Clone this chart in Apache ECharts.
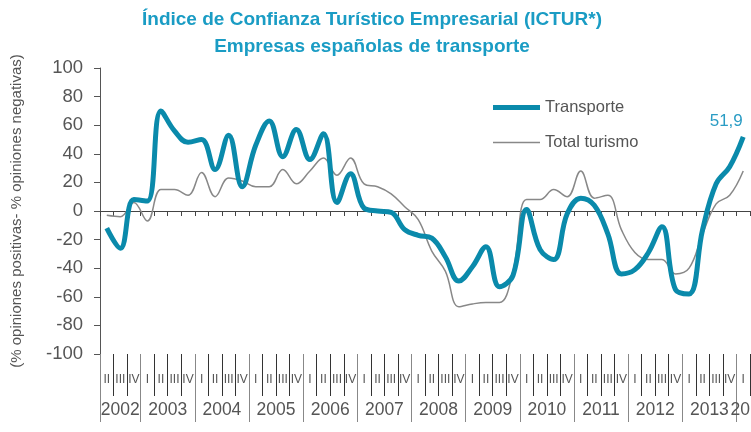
<!DOCTYPE html>
<html>
<head>
<meta charset="utf-8">
<script src="https://cdn.jsdelivr.net/npm/echarts@6/dist/echarts.min.js"></script>
<style>
  html, body { margin: 0; padding: 0; background: #fff; }
  #chart { width: 751px; height: 432px; }
</style>
</head>
<body>
<div id="chart"></div>
<script>
// quarters from 2002-II to 2014-I
const years = ['2002', '2003', '2004', '2005', '2006', '2007', '2008', '2009', '2010', '2011', '2012', '2013', '2014'];
const quartersPerYear = [3, 4, 4, 4, 4, 4, 4, 4, 4, 4, 4, 4, 1];
const quarterLabels = ['I', 'II', 'III', 'IV'];

const transporte = [
  -12, -26, 8, 7, 70, 56, 48, 50, 29, 53, 17, 46,
  63, 38, 57, 36, 54, 6, 26, 2, 0, -1, -13, -17,
  -19, -32, -49, -39, -25, -53, -45, 1, -27, -34, -2, 9,
  4, -16, -44, -41, -29, -11, -55, -58, -13, 19, 31, 51.9
];
const totalTurismo = [
  -3, -4, 6, -7, 15, 15, 11, 27, 10, 23, 21, 17,
  17, 29, 19, 28, 37, 25, 37, 19, 17, 12, 3, -6,
  -28, -42, -67, -65, -64, -64, -42, 8, 8, 15, 10, 28,
  9, 11, -13, -29, -34, -34, -44, -40, -16, 5, 11, 28
];

const BLUE = '#0a8aab';
const GREY = '#888';

// category names + quarter roman labels
const categories = [];
const qNames = [];
years.forEach((y, yi) => {
  const n = quartersPerYear[yi];
  const first = yi === 0 ? 4 - n : 0;
  for (let q = first; q < first + n; q++) {
    categories.push(y + '-' + quarterLabels[q]);
    qNames.push(quarterLabels[q]);
  }
});
const nQ = categories.length;

// year separators and label positions on a value axis 0..nQ
const yearBounds = [0];
const yearLabelPos = [];
let acc = 0;
quartersPerYear.forEach((n, i) => {
  const start = acc;
  acc += n;
  yearBounds.push(acc);
  yearLabelPos.push(n < 4 && i === years.length - 1 ? nQ : start + n / 2);
});
yearBounds.pop();

const chart = echarts.init(document.getElementById('chart'));
chart.setOption({
  animation: false,
  textStyle: { fontFamily: 'Liberation Sans' },
  title: {
    text: 'Índice de Confianza Turístico Empresarial (ICTUR*)\nEmpresas españolas de transporte',
    left: 367, top: 1, textAlign: 'center',
    textStyle: { color: '#1a9cc4', fontSize: 19, fontWeight: 'bold', lineHeight: 27, fontFamily: 'Liberation Sans' }
  },
  legend: {
    orient: 'vertical', left: 493, top: 99, padding: 0,
    itemWidth: 47, itemHeight: 16, itemGap: 18,
    textStyle: { color: '#555', fontSize: 16.5 },
    data: [
      { name: 'Transporte', icon: 'path://M0,0M0,5.5H47V10.5H0ZM47,16', itemStyle: { color: BLUE } },
      { name: 'Total turismo', icon: 'path://M0,0M0,7.25H47V8.75H0ZM47,16', itemStyle: { color: GREY } }
    ]
  },
  grid: { left: 100, right: 1, top: 68, bottom: 78, outerBoundsMode: 'none' },
  xAxis: [
    {
      type: 'category', data: categories, boundaryGap: true,
      axisLine: { onZero: true, lineStyle: { color: '#444', width: 1 } },
      axisTick: { show: true, length: 5, interval: 0, lineStyle: { color: '#444' } },
      axisLabel: { show: false }
    },
    {
      type: 'category', data: categories, boundaryGap: true, position: 'bottom',
      axisLine: { show: false, onZero: false },
      axisTick: { show: true, length: 42, interval: 0, inside: false, lineStyle: { color: '#333' } },
      axisLabel: {
        show: true, interval: 0, margin: 20, fontSize: 12, color: '#555',
        formatter: (v, i) => qNames[i]
      }
    },
    {
      type: 'value', min: 0, max: nQ, position: 'bottom',
      axisLine: { show: false, onZero: false },
      splitLine: { show: false },
      axisTick: { show: true, length: 68, customValues: yearBounds, lineStyle: { color: '#888' } },
      axisLabel: {
        show: true, margin: 47, fontSize: 17.5, color: '#555',
        showMaxLabel: true, showMinLabel: true,
        customValues: yearLabelPos,
        formatter: (v) => years[yearLabelPos.indexOf(v)]
      }
    }
  ],
  yAxis: {
    type: 'value', min: -100, max: 100, interval: 20,
    name: '(% opiniones positivas- % opiniones negativas)',
    nameLocation: 'middle', nameGap: 76,
    nameTextStyle: { color: '#555', fontSize: 15 },
    axisLine: { show: true, lineStyle: { color: '#555' } },
    axisTick: { show: true, length: 6, lineStyle: { color: '#555' } },
    axisLabel: { fontSize: 18.5, color: '#555', margin: 17 },
    splitLine: { show: false }
  },
  series: [
    {
      name: 'Transporte', type: 'line', data: transporte,
      xAxisIndex: 0, smooth: 0.4, symbol: 'none', z: 3,
      lineStyle: { color: BLUE, width: 5 },
      itemStyle: { color: BLUE },
      endLabel: {
        show: true, distance: 0, align: 'center', verticalAlign: 'middle',
        offset: [-17, -15],
        formatter: (p) => String(p.value).replace('.', ','),
        color: '#2a9cc4', fontSize: 17
      }
    },
    {
      name: 'Total turismo', type: 'line', data: totalTurismo,
      xAxisIndex: 0, smooth: 0.4, symbol: 'none', z: 2,
      lineStyle: { color: GREY, width: 1.5 },
      itemStyle: { color: GREY }
    }
  ]
});
</script>
</body>
</html>
